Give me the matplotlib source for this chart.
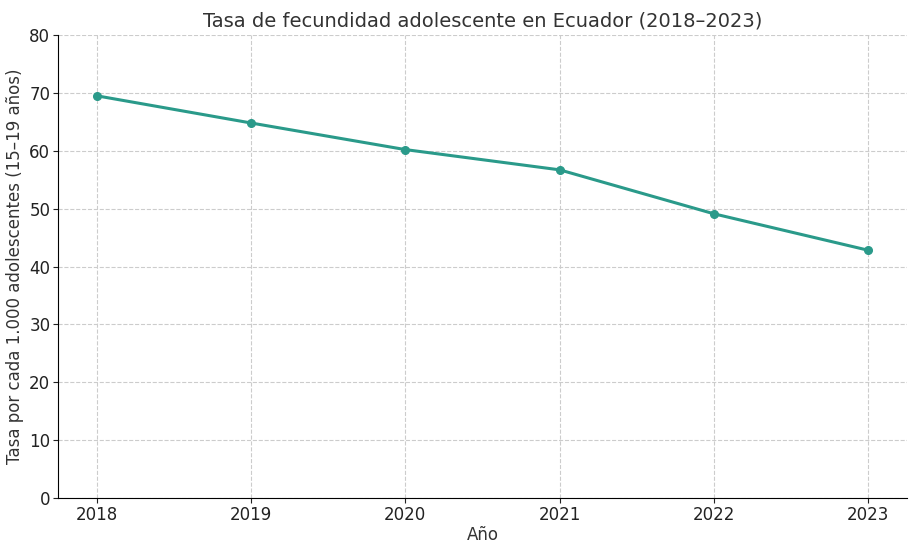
import matplotlib
matplotlib.use("Agg")
import matplotlib.pyplot as plt

years = [2018, 2019, 2020, 2021, 2022, 2023]
rates = [69.5, 64.8, 60.2, 56.7, 49.1, 42.8]

fig = plt.figure(figsize=(9.21, 5.52), dpi=100)
ax = fig.add_axes([58/921, 54/552, 849/921, 463/552])
ax.plot(years, rates, color="#2a9a8a", linewidth=2.2, marker="o", markersize=5.5)
ax.set_ylim(0, 80)
ax.set_xlim(2017.75, 2023.25)
ax.set_xticks(years)
ax.grid(True, linestyle="--", color="#cccccc", linewidth=0.8)
ax.spines["top"].set_visible(False)
ax.spines["right"].set_visible(False)
ax.tick_params(labelsize=12, pad=2, colors="#222222")
ax.set_title("Tasa de fecundidad adolescente en Ecuador (2018–2023)", fontsize=14, color="#333333")
ax.set_xlabel("Año", fontsize=12, color="#333333", labelpad=2)
ax.set_ylabel("Tasa por cada 1.000 adolescentes (15–19 años)", fontsize=12, color="#333333", labelpad=4)
fig.savefig("out.png", dpi=100)
